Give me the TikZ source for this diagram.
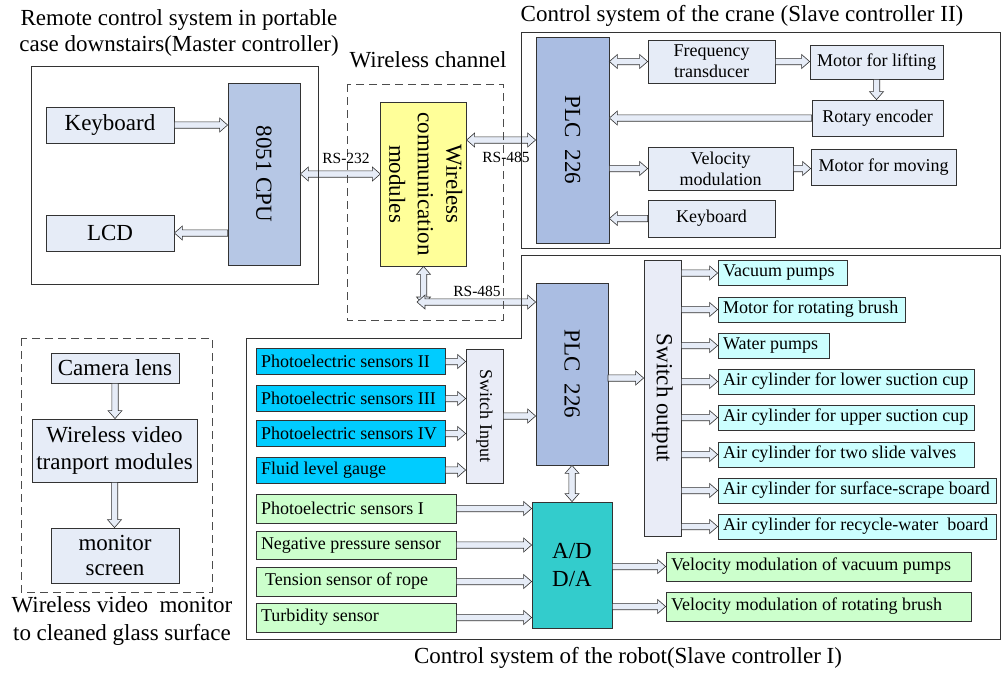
\documentclass[tikz,border=0pt]{standalone}
\usepackage{fontspec}
\usepackage{graphicx}
\setmainfont{Liberation Serif}
\usetikzlibrary{calc}
\definecolor{lbox}{RGB}{230,236,247}
\definecolor{cpuc}{RGB}{182,199,229}
\definecolor{plcc}{RGB}{170,189,226}
\definecolor{yel}{RGB}{255,255,153}
\definecolor{pcyan}{RGB}{0,204,255}
\definecolor{lcyan}{RGB}{204,255,255}
\definecolor{lgreen}{RGB}{204,255,204}
\definecolor{teal2}{RGB}{51,204,204}
\definecolor{swc}{RGB}{233,236,247}
\newcommand\fbig{\fontsize{23}{26}\selectfont}
\newcommand\fsm{\fontsize{18}{21}\selectfont}
\newcommand\frs{\fontsize{15.5}{18}\selectfont}
\newcommand\lft[2]{\makebox[#1][l]{#2}}
\newcommand\fatone[2]{%
  \path (#1) coordinate (fa-s) (#2) coordinate (fa-t);
  \path ($(fa-t)!8pt!(fa-s)$) coordinate (fa-b);
  \filldraw[fatarrow] ($(fa-s)!3.2pt!90:(fa-t)$) -- ($(fa-b)!3.2pt!90:(fa-t)$) -- ($(fa-b)!7pt!90:(fa-t)$) -- (fa-t) -- ($(fa-b)!7pt!-90:(fa-t)$) -- ($(fa-b)!3.2pt!-90:(fa-t)$) -- ($(fa-s)!3.2pt!-90:(fa-t)$) -- cycle;}
\newcommand\fattwo[2]{%
  \path (#1) coordinate (fa-s) (#2) coordinate (fa-t);
  \path ($(fa-s)!8pt!(fa-t)$) coordinate (fa-a) ($(fa-t)!8pt!(fa-s)$) coordinate (fa-b);
  \filldraw[fatarrow] (fa-s) -- ($(fa-a)!7pt!90:(fa-t)$) -- ($(fa-a)!3.2pt!90:(fa-t)$) -- ($(fa-b)!3.2pt!90:(fa-t)$) -- ($(fa-b)!7pt!90:(fa-t)$) -- (fa-t) -- ($(fa-b)!7pt!-90:(fa-t)$) -- ($(fa-b)!3.2pt!-90:(fa-t)$) -- ($(fa-a)!3.2pt!-90:(fa-t)$) -- ($(fa-a)!7pt!-90:(fa-t)$) -- cycle;}
\tikzset{
  bx/.style={draw=black!80, line width=0.8pt, inner sep=0pt, align=center, fill=lbox},
  lt/.style={inner xsep=5pt, inner ysep=0pt},
  fatarrow/.style={draw=black!80, fill=lbox, line width=0.6pt, line join=miter},
  frame/.style={draw=black!80, line width=0.8pt},
  dframe/.style={draw=black!70, line width=0.8pt, dash pattern=on 8pt off 5pt},
  lab/.style={inner sep=0pt, align=center},
}
\begin{document}
\begin{tikzpicture}[x=1pt,y=-1pt]
\useasboundingbox (0,0) rectangle (1003,673);
\fill[white] (0,0) rectangle (1003,673);

% ---- Master controller
\node[bx, font=\fbig, minimum width=128pt, minimum height=36pt] (kb1) at (110,125) {Keyboard};
\node[bx, font=\fbig, minimum width=128pt, minimum height=36pt] (lcd) at (110,233) {LCD};
\node[bx, fill=cpuc, font=\fbig, minimum width=72pt, minimum height=182pt] (cpu) at (264,174) {\rotatebox{-90}{8051 CPU}};
\node[bx, fill=yel, minimum width=81pt, minimum height=164pt] (wl) at (423.5,184)
  {\rotatebox{-90}{\fontsize{23}{28.5}\selectfont\begin{tabular}{@{}c@{}}Wireless\\communication\\modules\end{tabular}}};

% ---- Crane
\node[bx, fill=plcc, font=\fbig, minimum width=73pt, minimum height=206pt] (plc1) at (572.5,140) {\rotatebox{-90}{PLC\ \ 226}};
\node[bx, font=\fsm, minimum width=127pt, minimum height=43pt] (freq) at (711.5,61.5) {Frequency\\transducer};
\node[bx, font=\fsm, minimum width=133pt, minimum height=34pt] (mlift) at (876.5,62) {Motor for lifting};
\node[bx, font=\fsm, minimum width=131pt, minimum height=36pt] (renc) at (877.5,118) {Rotary encoder};
\node[bx, font=\fsm, minimum width=145pt, minimum height=43pt] (velmod) at (720.5,168.5) {Velocity\\modulation};
\node[bx, font=\fsm, minimum width=145pt, minimum height=36pt] (mmove) at (883.5,167) {Motor for moving};
\node[bx, font=\fsm, minimum width=127pt, minimum height=37pt] (kb2) at (711.5,218.5) {Keyboard};

% ---- Robot
\node[bx, fill=plcc, font=\fbig, minimum width=72pt, minimum height=182pt] (plc2) at (572,374) {\rotatebox{-90}{PLC\ \ 226}};
\node[bx, fill=swc, font=\fsm, minimum width=37pt, minimum height=134pt] (swin) at (484.5,416) {\rotatebox{-90}{Switch Input}};
\node[bx, fill=swc, font=\fbig, minimum width=37pt, minimum height=276pt] (swout) at (662.5,398) {\rotatebox{-90}{Switch output}};
\node[bx, lt, fill=pcyan, font=\fsm, minimum width=189pt, minimum height=26pt] (ps2) at (350.5,361.5) {\lft{179pt}{Photoelectric sensors II}};
\node[bx, lt, fill=pcyan, font=\fsm, minimum width=189pt, minimum height=26pt] (ps3) at (350.5,398.5) {\lft{179pt}{Photoelectric sensors III}};
\node[bx, lt, fill=pcyan, font=\fsm, minimum width=189pt, minimum height=26pt] (ps4) at (350.5,433.5) {\lft{179pt}{Photoelectric sensors IV}};
\node[bx, lt, fill=pcyan, font=\fsm, minimum width=189pt, minimum height=26pt] (flg) at (350.5,470) {\lft{179pt}{Fluid level gauge}};
\node[bx, lt, fill=lgreen, font=\fsm, minimum width=200pt, minimum height=29pt] (ps1) at (356,508.5) {\lft{190pt}{Photoelectric sensors I}};
\node[bx, lt, fill=lgreen, font=\fsm, minimum width=200pt, minimum height=28pt] (nps) at (356,545) {\lft{190pt}{Negative pressure sensor}};
\node[bx, lt, fill=lgreen, font=\fsm, minimum width=200pt, minimum height=29pt] (tens) at (356,581.5) {\lft{190pt}{\hspace{4pt}Tension sensor of rope}};
\node[bx, lt, fill=lgreen, font=\fsm, minimum width=200pt, minimum height=29pt] (turb) at (356,617.5) {\lft{190pt}{Turbidity sensor}};
\node[bx, fill=teal2, font=\fbig, minimum width=80pt, minimum height=126pt] (ad) at (572,565) {A/D\\[2pt]D/A};
\node[bx, lt, fill=lcyan, font=\fsm, minimum width=129pt, minimum height=25pt] (vac) at (782.5,273) {\lft{119pt}{Vacuum pumps}};
\node[bx, lt, fill=lcyan, font=\fsm, minimum width=187pt, minimum height=25pt] (mrb) at (811.5,309.5) {\lft{177pt}{Motor for rotating brush}};
\node[bx, lt, fill=lcyan, font=\fsm, minimum width=111pt, minimum height=25pt] (wat) at (773.5,345.5) {\lft{101pt}{Water pumps}};
\node[bx, lt, fill=lcyan, font=\fsm, minimum width=256pt, minimum height=25pt] (acl) at (846,381.5) {\lft{246pt}{Air cylinder for lower suction cup}};
\node[bx, lt, fill=lcyan, font=\fsm, minimum width=256pt, minimum height=25pt] (acu) at (846,417.5) {\lft{246pt}{Air cylinder for upper suction cup}};
\node[bx, lt, fill=lcyan, font=\fsm, minimum width=256pt, minimum height=25pt] (acs) at (846,454.5) {\lft{246pt}{Air cylinder for two slide valves}};
\node[bx, lt, fill=lcyan, font=\fsm, minimum width=278pt, minimum height=25pt] (acb) at (857,490.5) {\lft{268pt}{Air cylinder for surface-scrape board}};
\node[bx, lt, fill=lcyan, font=\fsm, minimum width=278pt, minimum height=25pt] (acr) at (857,526.5) {\lft{268pt}{Air cylinder for recycle-water\ \ board}};
\node[bx, lt, fill=lgreen, font=\fsm, minimum width=305pt, minimum height=29pt] (vmv) at (818.5,566.5) {\lft{295pt}{Velocity modulation of vacuum pumps}};
\node[bx, lt, fill=lgreen, font=\fsm, minimum width=305pt, minimum height=29pt] (vmb) at (818.5,606.5) {\lft{295pt}{Velocity modulation of rotating brush}};

% ---- Video
\node[bx, font=\fbig, minimum width=128pt, minimum height=30pt] (cam) at (115,368) {Camera lens};
\node[bx, font={\fontsize{23}{27}\selectfont}, minimum width=165pt, minimum height=63pt] (wvt) at (114.5,450.5) {Wireless video\\tranport modules};
\node[bx, font={\fontsize{23}{25}\selectfont}, minimum width=128pt, minimum height=55pt] (mon) at (115,555.5) {monitor\\screen};

% ---- Arrows
\fatone{kb1.east}{kb1.east -| cpu.west}
\fatone{cpu.west |- lcd.east}{lcd.east}
\fattwo{cpu.east}{cpu.east -| wl.west}
\fattwo{wl.east |- plc1.west}{plc1.west}
\fattwo{plc1.east |- freq.west}{freq.west}
\fatone{freq.east}{freq.east -| mlift.west}
\fatone{mlift.south}{mlift.south |- renc.north}
\fatone{renc.west}{renc.west -| plc1.east}
\fatone{velmod.east -| plc1.east}{velmod.west}
\fatone{velmod.east}{velmod.east -| mmove.west}
\fatone{kb2.west}{kb2.west -| plc1.east}
\coordinate (rsv) at (423.5,305);
\coordinate (rsh) at (417,302);
\fattwo{wl.south}{wl.south |- rsv}
\fattwo{rsh}{rsh -| plc2.west}
\foreach \n in {ps2,ps3,ps4,flg} {\fatone{\n.east}{\n.east -| swin.west}}
\fatone{swin.east}{swin.east -| plc2.west}
\fattwo{plc2.south}{ad.north}
\foreach \n in {ps1,nps,tens,turb} {\fatone{\n.east}{\n.east -| ad.west}}
\fatone{ad.east |- vmv.west}{vmv.west}
\fatone{ad.east |- vmb.west}{vmb.west}
\coordinate (swi) at (608,378);
\fatone{swi}{swi -| swout.west}
\foreach \n in {vac,mrb,wat,acl,acu,acs,acb,acr} {\fatone{swout.east |- \n.west}{\n.west}}
\fatone{cam.south}{cam.south |- wvt.north}
\fatone{wvt.south}{wvt.south |- mon.north}

% ---- Frames
\draw[frame] (31,66) rectangle (318,284);
\draw[dframe] (347,84) rectangle (503,320);
\draw[frame] (521,32) rectangle (1000,248);
\draw[frame] (521,255) -- (1000,255) -- (1000,639) -- (246,639) -- (246,338) -- (521,338) -- cycle;
\draw[dframe] (21,338) rectangle (212,592);

% ---- Labels
\node[lab, font=\fbig] (t1) at (179,33) {Remote control system in portable\\case downstairs(Master controller)};
\node[lab, font=\fbig] (t2) at (428,60) {Wireless channel};
\node[lab, font=\fbig] (t3) at (742,16) {Control system of the crane (Slave controller II)};
\node[lab, font=\fbig] (t4) at (628,658) {Control system of the robot(Slave controller I)};
\node[lab, font={\fontsize{23}{28}\selectfont}] (t5) at (122,621) {Wireless video\ \ monitor\\to cleaned glass surface};
\node[lab, font=\frs] (l1) at (346,158) {RS-232};
\node[lab, font=\frs] (l2) at (506,157) {RS-485};
\node[lab, font=\frs] (l3) at (477,291) {RS-485};
\end{tikzpicture}
\end{document}
